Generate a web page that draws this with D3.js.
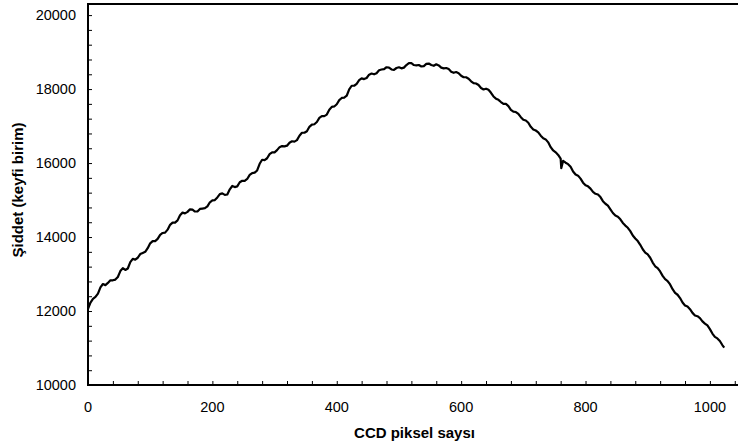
<!DOCTYPE html>
<html>
<head>
<meta charset="utf-8">
<script src="https://cdn.jsdelivr.net/npm/d3@7"></script>
<style>
  body { margin: 0; background: #fff; }
  text { font-family: "Liberation Sans", Arial, sans-serif; }
</style>
</head>
<body>
<svg id="chart"></svg>
<script>
const pixel = [0, 4, 8, 12, 16, 20, 24, 28, 32, 36, 40, 44, 48, 52, 56, 60, 64, 68, 72, 76,
    80, 84, 88, 92, 96, 100, 104, 108, 112, 116, 120, 124, 128, 132, 136, 140, 144, 148, 152, 156,
    160, 164, 168, 172, 176, 180, 184, 188, 192, 196, 200, 204, 208, 212, 216, 220, 224, 228, 232, 236,
    240, 244, 248, 252, 256, 260, 264, 268, 272, 276, 280, 284, 288, 292, 296, 300, 304, 308, 312, 316,
    320, 324, 328, 332, 336, 340, 344, 348, 352, 356, 360, 364, 368, 372, 376, 380, 384, 388, 392, 396,
    400, 404, 408, 412, 416, 420, 424, 428, 432, 436, 440, 444, 448, 452, 456, 460, 464, 468, 472, 476,
    480, 484, 488, 492, 496, 500, 504, 508, 512, 516, 520, 524, 528, 532, 536, 540, 544, 548, 552, 556,
    560, 564, 568, 572, 576, 580, 584, 588, 592, 596, 600, 604, 608, 612, 616, 620, 624, 628, 632, 636,
    640, 644, 648, 652, 656, 660, 664, 668, 672, 676, 680, 684, 688, 692, 696, 700, 704, 708, 712, 716,
    720, 724, 728, 732, 736, 740, 744, 748, 752, 756, 760, 761, 764, 768, 772, 776, 780, 784, 788, 792,
    796, 800, 804, 808, 812, 816, 820, 824, 828, 832, 836, 840, 844, 848, 852, 856, 860, 864, 868, 872,
    876, 880, 884, 888, 892, 896, 900, 904, 908, 912, 916, 920, 924, 928, 932, 936, 940, 944, 948, 952,
    956, 960, 964, 968, 972, 976, 980, 984, 988, 992, 996, 1000, 1004, 1008, 1012, 1016, 1020, 1023];
const intensity = [12060, 12230, 12330, 12380, 12470, 12640, 12730, 12700, 12760, 12830, 12830, 12850, 12920, 13080, 13160, 13110, 13150, 13320, 13410, 13390,
    13440, 13540, 13570, 13600, 13700, 13830, 13890, 13890, 13950, 14060, 14110, 14120, 14200, 14330, 14390, 14390, 14450, 14590, 14660, 14640,
    14680, 14750, 14740, 14690, 14690, 14760, 14770, 14780, 14830, 14940, 14990, 15000, 15070, 15160, 15180, 15140, 15150, 15290, 15380, 15350,
    15370, 15480, 15520, 15520, 15570, 15680, 15730, 15740, 15800, 15980, 16090, 16080, 16130, 16240, 16290, 16290, 16350, 16430, 16460, 16450,
    16470, 16550, 16590, 16580, 16620, 16740, 16820, 16820, 16860, 16980, 17040, 17050, 17110, 17220, 17270, 17270, 17310, 17440, 17520, 17530,
    17590, 17700, 17760, 17770, 17820, 17990, 18090, 18090, 18140, 18240, 18290, 18270, 18300, 18390, 18420, 18400, 18430, 18510, 18530, 18540,
    18590, 18580, 18530, 18520, 18570, 18590, 18560, 18580, 18650, 18700, 18700, 18650, 18640, 18650, 18610, 18620, 18680, 18690, 18650, 18630,
    18670, 18640, 18580, 18560, 18570, 18540, 18470, 18440, 18460, 18430, 18360, 18320, 18320, 18280, 18210, 18160, 18150, 18110, 18030, 17990,
    18010, 17980, 17900, 17800, 17740, 17710, 17650, 17600, 17600, 17540, 17440, 17390, 17380, 17330, 17240, 17170, 17150, 17090, 16980, 16910,
    16880, 16830, 16740, 16670, 16640, 16560, 16430, 16340, 16290, 16220, 16120, 15860, 16060, 16010, 15970, 15900, 15770, 15690, 15660, 15580,
    15470, 15400, 15370, 15310, 15220, 15170, 15150, 15080, 14970, 14900, 14850, 14750, 14650, 14580, 14550, 14480, 14380, 14310, 14250, 14160,
    14040, 13960, 13890, 13790, 13670, 13580, 13530, 13440, 13310, 13210, 13160, 13070, 12950, 12860, 12810, 12720, 12590, 12490, 12440, 12350,
    12230, 12150, 12120, 12050, 11950, 11880, 11860, 11810, 11720, 11660, 11610, 11510, 11390, 11300, 11260, 11190, 11080, 11010];

const xTicks = [0, 200, 400, 600, 800, 1000];
const yTicks = [10000, 12000, 14000, 16000, 18000, 20000];

const W = 738, H = 448;
const plot = { left: 88, top: 4, right: 741, bottom: 385 };

const svg = d3.select("#chart")
    .attr("width", W)
    .attr("height", H);

const x = d3.scaleLinear().domain([0, 1050]).range([plot.left, plot.right]);
const y = d3.scaleLinear().domain([10000, 20300]).range([plot.bottom, plot.top]);

// minor ticks, pointing inward
const xMinor = d3.range(0, 1041, 40);
const yMinor = d3.range(10000, 20001, 400);

svg.append("g")
    .attr("transform", `translate(0,${plot.bottom})`)
    .call(d3.axisBottom(x).tickValues(xMinor).tickSize(-4).tickFormat(""))
    .call(g => g.select(".domain").remove())
    .selectAll("line").attr("stroke", "#000");

svg.append("g")
    .attr("transform", `translate(${plot.left},0)`)
    .call(d3.axisLeft(y).tickValues(yMinor).tickSize(-4).tickFormat(""))
    .call(g => g.select(".domain").remove())
    .selectAll("line").attr("stroke", "#000");

// tick labels
svg.append("g")
    .selectAll("text")
    .data(xTicks)
    .join("text")
    .attr("x", d => x(d))
    .attr("y", 412)
    .attr("text-anchor", "middle")
    .style("font-size", "14.5px")
    .text(d => d);

svg.append("g")
    .selectAll("text")
    .data(yTicks)
    .join("text")
    .attr("x", 76)
    .attr("y", d => y(d) + 5)
    .attr("text-anchor", "end")
    .style("font-size", "14.5px")
    .text(d => d);

// frame
svg.append("rect")
    .attr("x", plot.left)
    .attr("y", plot.top)
    .attr("width", plot.right - plot.left)
    .attr("height", plot.bottom - plot.top)
    .attr("fill", "none")
    .attr("stroke", "#000")
    .attr("stroke-width", 2);

// the spectrum
const line = d3.line()
    .x(d => x(d[0]))
    .y(d => y(d[1]));

svg.append("path")
    .datum(pixel.map((p, i) => [p, intensity[i]]))
    .attr("fill", "none")
    .attr("stroke", "#000")
    .attr("stroke-width", 2.2)
    .attr("stroke-linejoin", "round")
    .attr("d", line);

// axis titles
svg.append("text")
    .attr("x", (plot.left + plot.right) / 2)
    .attr("y", 438)
    .attr("text-anchor", "middle")
    .style("font-size", "15px")
    .style("font-weight", "bold")
    .text("CCD piksel saysı");

svg.append("text")
    .attr("transform", "translate(23,190) rotate(-90)")
    .attr("text-anchor", "middle")
    .style("font-size", "15px")
    .style("font-weight", "bold")
    .text("Şiddet (keyfi birim)");
</script>
</body>
</html>
